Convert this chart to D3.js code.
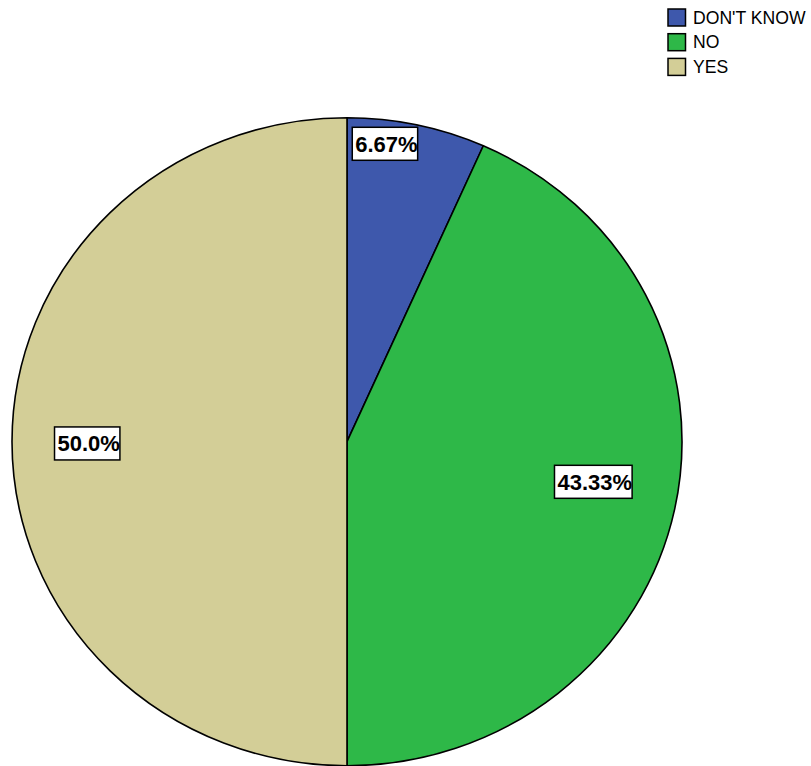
<!DOCTYPE html>
<html>
<head>
<meta charset="utf-8">
<script src="https://cdn.jsdelivr.net/npm/d3@7/dist/d3.min.js"></script>
<style>
  html, body { margin: 0; padding: 0; background: #fff; }
  svg { display: block; }
</style>
</head>
<body>
<script>
// Response categories, drawn clockwise from 12 o'clock
const categories = ["DON'T KNOW", "NO", "YES"];
const percents = [6.67, 43.33, 50.0];
const valueLabels = ["6.67%", "43.33%", "50.0%"];
const colors = ["#3E58AC", "#2EB848", "#D3CE97"];

// Where each value box sits: angle (deg, clockwise from top) and fraction of the radius
const labelLayout = [
  { angle: 7.3, frac: 0.927 },
  { angle: 99.5, frac: 0.75 },
  { angle: 269.6, frac: 0.771 }
];

const W = 811, H = 766;
const cx = 347, cy = 441.7, rx = 335, ry = 324;

const svg = d3.select("body").append("svg")
  .attr("width", W).attr("height", H);

const pie = d3.pie().sort(null).value(d => d)
  .startAngle(0).endAngle(2 * Math.PI);
const arcs = pie(percents);

const arc = d3.arc().innerRadius(0).outerRadius(ry);

// Pie, stretched slightly wider than tall
const g = svg.append("g")
  .attr("transform", `translate(${cx},${cy}) scale(${rx / ry},1)`);

g.selectAll("path.slice")
  .data(arcs)
  .join("path")
  .attr("class", "slice")
  .attr("d", arc)
  .attr("fill", (d, i) => colors[i])
  .attr("stroke", "#000")
  .attr("stroke-width", 1.6)
  .attr("stroke-linejoin", "round")
  .attr("vector-effect", "non-scaling-stroke");

// Value labels in white boxes
const labels = svg.append("g").selectAll("g.lab")
  .data(arcs)
  .join("g")
  .attr("class", "lab")
  .attr("transform", (d, i) => {
    const a = labelLayout[i].angle * Math.PI / 180;
    const f = labelLayout[i].frac;
    const x = cx + rx * f * Math.sin(a);
    const y = cy - ry * f * Math.cos(a);
    return `translate(${x},${y})`;
  });

labels.each(function(d, i) {
  const sel = d3.select(this);
  const rect = sel.append("rect");
  const t = sel.append("text")
    .attr("font-family", "Arial, 'Liberation Sans', sans-serif")
    .attr("font-weight", "bold")
    .attr("font-size", 22)
    .attr("fill", "#000")
    .attr("text-anchor", "middle")
    .attr("y", 7.8)
    .text(valueLabels[i]);
  const len = t.node().getComputedTextLength();
  rect.attr("x", -len / 2 - 3)
    .attr("y", -16.5)
    .attr("width", len + 3)
    .attr("height", 33)
    .attr("fill", "#fff")
    .attr("stroke", "#000")
    .attr("stroke-width", 1.5);
});

// Legend
const legend = svg.append("g").attr("transform", "translate(668,9)");
const rows = legend.selectAll("g")
  .data(categories)
  .join("g")
  .attr("transform", (d, i) => `translate(0,${i * 24.7})`);

rows.append("rect")
  .attr("x", 0).attr("y", 0)
  .attr("width", 17.5).attr("height", 17)
  .attr("fill", (d, i) => colors[i])
  .attr("stroke", "#000")
  .attr("stroke-width", 1.5);

rows.append("text")
  .attr("x", 25)
  .attr("y", 14.5)
  .attr("font-family", "Arial, 'Liberation Sans', sans-serif")
  .attr("font-size", 17.6)
  .attr("fill", "#000")
  .text(d => d);
</script>
</body>
</html>
